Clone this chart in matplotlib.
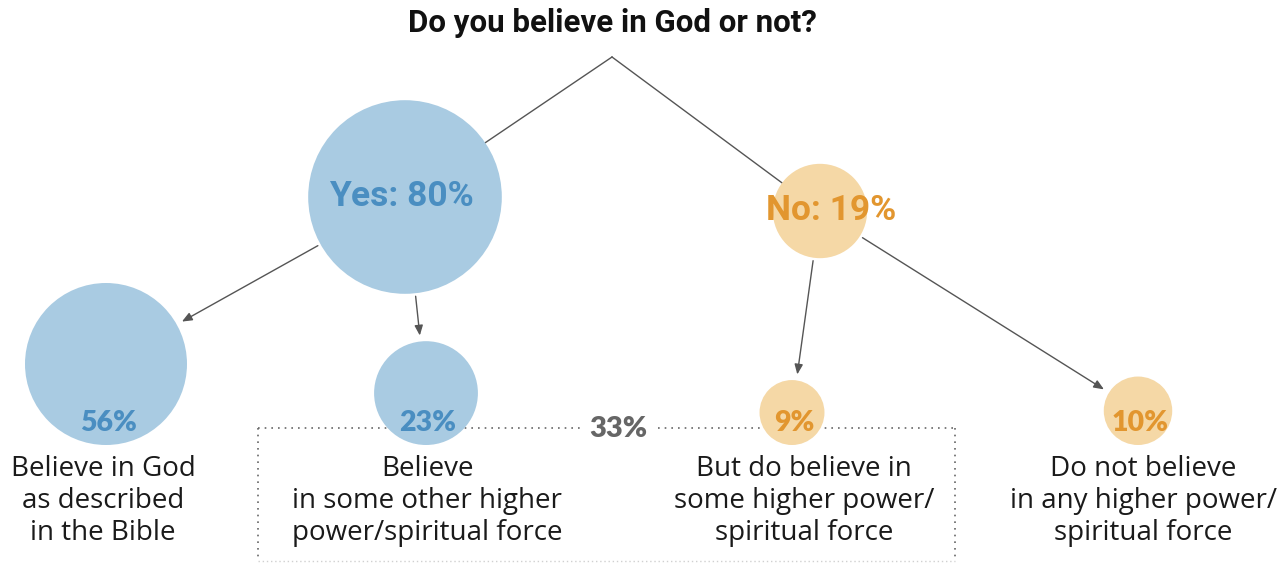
import numpy as np
import matplotlib.pyplot as plt
from matplotlib.patches import Circle

# data
title = "Do you believe in God or not?"
top_labels = ["Yes", "No"]
top_values = [80, 19]
leaf_values = [56, 23, 9, 10]
leaf_labels = [
    "Believe in God\nas described\nin the Bible",
    "Believe\nin some other higher\npower/spiritual force",
    "But do believe in\nsome higher power/\nspiritual force",
    "Do not believe\nin any higher power/\nspiritual force",
]
leaf_parent = [0, 0, 1, 1]
combined_value = 33  # 23% + 9% (rounded)

# styles
fill_colors = ["#a9cbe2", "#f5d8a6"]
text_colors = ["#4a8ec1", "#e2962f"]
line_color = "#555555"
bold_font = ["Roboto", "DejaVu Sans"]
num_font = ["Lato", "DejaVu Sans"]
body_font = ["Open Sans", "DejaVu Sans"]

# layout (pixel space)
apex = (612, 57)
top_x = [405, 820]
top_y = [197, 211]
leaf_x = [106, 426, 792, 1138]
label_x = [103, 427, 804, 1143]
leaf_base = 445
k = 81 / np.sqrt(56)  # radius scale: area proportional to share


def radius(v):
    return k * np.sqrt(v)


def edge_point(cx, cy, r, tx, ty, gap=0):
    d = np.array([tx - cx, ty - cy], dtype=float)
    d /= np.hypot(*d)
    return cx + (r + gap) * d[0], cy + (r + gap) * d[1]


fig = plt.figure(figsize=(12.81, 5.65), dpi=100)
ax = fig.add_axes([0, 0, 1, 1])
ax.set_xlim(0, 1281)
ax.set_ylim(565, 0)
ax.axis("off")

ax.text(612, 23, title, ha="center", va="center", fontsize=22.5, fontweight="bold",
        family=bold_font, color="#111111")

# top circles and branch lines
top_r = [radius(v) for v in top_values]
for i in range(2):
    ax.add_patch(Circle((top_x[i], top_y[i]), top_r[i], color=fill_colors[i], lw=0, zorder=2))
    ex, ey = edge_point(top_x[i], top_y[i], top_r[i], *apex)
    ax.plot([apex[0], ex], [apex[1], ey], color=line_color, lw=1, zorder=1)
    ax.text(top_x[i] + (-4 if i == 0 else 11), top_y[i], f"{top_labels[i]}: {top_values[i]}%",
            ha="center", va="center", fontsize=25.5, fontweight="bold",
            family=bold_font, color=text_colors[i], zorder=3)

# leaf circles
leaf_r = [radius(v) for v in leaf_values]
leaf_y = [leaf_base - r for r in leaf_r]
for j in range(4):
    p = leaf_parent[j]
    ax.add_patch(Circle((leaf_x[j], leaf_y[j]), leaf_r[j], color=fill_colors[p], lw=0, zorder=2))
    sx, sy = edge_point(top_x[p], top_y[p], top_r[p], leaf_x[j], leaf_y[j], gap=3)
    tx, ty = edge_point(leaf_x[j], leaf_y[j], leaf_r[j], sx, sy, gap=6)
    ax.annotate("", xy=(tx, ty), xytext=(sx, sy),
                arrowprops=dict(arrowstyle="-|>,head_length=0.6,head_width=0.25",
                                color=line_color, lw=1, shrinkA=0, shrinkB=0), zorder=1)
    ax.text(leaf_x[j] + 2, leaf_base - 22, f"{leaf_values[j]}%", ha="center", va="center",
            fontsize=20.5, fontweight="heavy", family=num_font,
            color=text_colors[p], zorder=3)
    ax.text(label_x[j], 455, leaf_labels[j], ha="center", va="top", fontsize=20,
            linespacing=1.18, family=body_font, color="#1a1a1a", zorder=3)

# dotted bracket grouping the two "higher power" answers
bx0, bx1, by, bbot = 258, 955, 428, 561
dots = dict(color="#666666", lw=1.2, ls=(0, (1, 3)), zorder=1)
ax.plot([bx0, bx1], [by, by], **dots)
ax.plot([bx0, bx0], [by, bbot], **dots)
ax.plot([bx1, bx1], [by, bbot], **dots)
ax.plot([bx0, bx1], [bbot, bbot], color="#d0d0d0", lw=1, ls=(0, (1, 2)), zorder=1)
ax.text(618, by + 1, f"{combined_value}%", ha="center", va="center", fontsize=21,
        fontweight="heavy", family=num_font, color="#666666",
        bbox=dict(boxstyle="square,pad=0.3", fc="white", ec="none"), zorder=3)

fig.savefig("out.png", dpi=100)
